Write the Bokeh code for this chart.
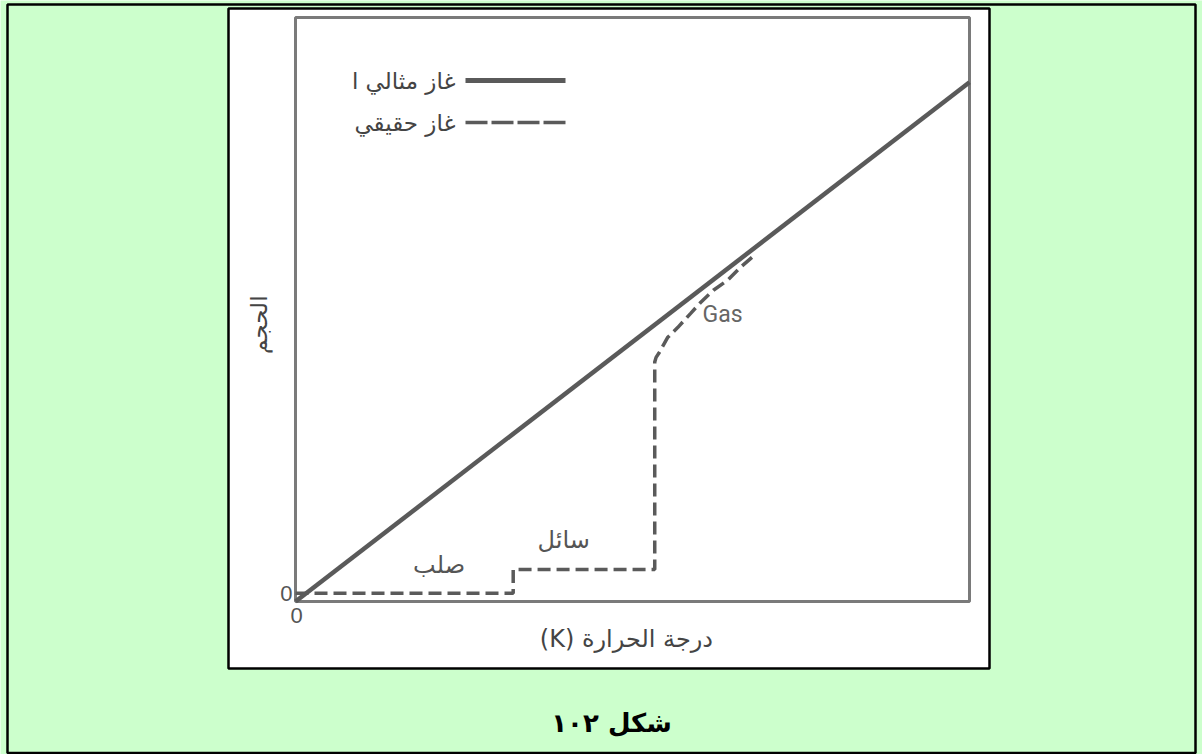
import math
from bokeh.plotting import figure
from bokeh.models import Range1d
from bokeh.core.properties import value
from bokeh.embed import file_html
from bokeh.resources import INLINE

# ---- data (temperature vs volume, arbitrary units 0..100) ----
ideal_T = [0, 100]
ideal_V = [0, 88.9]

real_T = [0, 32.3, 32.3, 53.3, 53.3, 53.5, 53.9, 55.2, 56.7, 58.6, 60.1, 62.0, 64.1, 66.0, 68.0]
real_V = [1.4, 1.4, 5.5, 5.5, 41.0, 41.8, 42.5, 45.2, 46.9, 49.3, 51.2, 53.3, 55.0, 57.2, 59.2]

phase_names = ["صلب", "سائل"]
phase_T = [21.3, 39.8]
phase_V = [6.2, 10.5]

gas_name = ["Gas"]
gas_T = [60.4]
gas_V = [49.2]

legend_labels = ["غاز مثالي ا", "غاز حقيقي"]
x_title = "(K) درجة الحرارة"
y_title = "الحجم"
caption = "شكل ١٠٢"
tick_label = ["0"]
T_MAX, V_MAX = 100, 100

# ---- layout (page pixels) ----
W, H = 1202, 754
FRAME_L, FRAME_R, FRAME_T, FRAME_B = 295, 969, 17, 601
GREEN = "#CCFFCC"
INK = "#5a5a5a"
ARABIC = value("DejaVu Sans")

sx = (FRAME_R - FRAME_L) / T_MAX
sy = (FRAME_B - FRAME_T) / V_MAX

p = figure(width=W, height=H, x_range=Range1d(0, W), y_range=Range1d(H, 0),
           min_border=0, x_axis_location=None, y_axis_location=None,
           output_backend="svg", toolbar_location=None)
p.extra_x_ranges = {"chart": Range1d(-FRAME_L / sx, (W - FRAME_L) / sx)}
p.extra_y_ranges = {"chart": Range1d(-(H - FRAME_B) / sy, FRAME_B / sy)}
p.background_fill_color = GREEN
p.border_fill_color = GREEN
p.outline_line_color = None
p.xgrid.visible = False
p.ygrid.visible = False

C = dict(x_range_name="chart", y_range_name="chart")

# page frame and white picture box
p.quad(left=[7], right=[1195], top=[4], bottom=[752.5], fill_alpha=0,
       line_color="black", line_width=2.5)
p.quad(left=[228], right=[989], top=[8], bottom=[668], fill_color="white",
       line_color="black", line_width=2.5)

# chart frame (data box)
p.quad(left=[0], right=[T_MAX], bottom=[0], top=[V_MAX], fill_alpha=0,
       line_color="#7a7a7a", line_width=3, **C)

# lines
p.line(ideal_T, ideal_V, line_width=4.5, line_color=INK, **C)
p.line(real_T, real_V, line_width=3.5, line_color=INK, line_dash="13 6", **C)

# tick labels at the origin
p.text(x=[0], y=[0], text=tick_label, text_font=value("Liberation Sans"),
       text_font_size="22px", text_color="#555555", text_align="right",
       text_baseline="bottom", x_offset=-3, y_offset=-1, **C)
p.text(x=[0], y=[0], text=tick_label, text_font=value("Liberation Sans"),
       text_font_size="22px", text_color="#555555", text_align="center",
       text_baseline="top", x_offset=1, y_offset=6, **C)

# axis titles
p.text(x=[49.1], y=[-6.5], text=[x_title], text_font=ARABIC,
       text_font_size="24px", text_color="#444444", text_align="center",
       text_baseline="middle", **C)
p.text(x=[-5.4], y=[47.4], text=[y_title], text_font=ARABIC, angle=math.pi / 2,
       text_font_size="23px", text_color="#444444", text_align="center",
       text_baseline="middle", **C)

# phase labels
p.text(x=phase_T, y=phase_V, text=phase_names, text_font=ARABIC,
       text_font_size="24px", text_color="#555555", text_align="center",
       text_baseline="middle", **C)
p.text(x=gas_T, y=gas_V, text=gas_name, text_font=value("Roboto"),
       text_font_size="23px", text_color="#666666", text_align="left",
       text_baseline="middle", **C)

# legend: key lines with text on their left (right-to-left layout)
p.line(x=[465, 565], y=[80, 80], line_width=5, line_color=INK)
p.line(x=[465, 565], y=[122, 122], line_width=3.5, line_color=INK, line_dash="22 4")
p.text(x=[455, 455], y=[80, 122], text=legend_labels, text_font=ARABIC,
       text_font_size="23px", text_color="#444444", text_align="right",
       text_baseline="middle")

# caption
p.text(x=[611], y=[722], text=[caption], text_font=ARABIC, text_font_style="bold",
       text_font_size="26px", text_color="black", text_align="center",
       text_baseline="middle")

open("out.html", "w").write(file_html(p, INLINE))
